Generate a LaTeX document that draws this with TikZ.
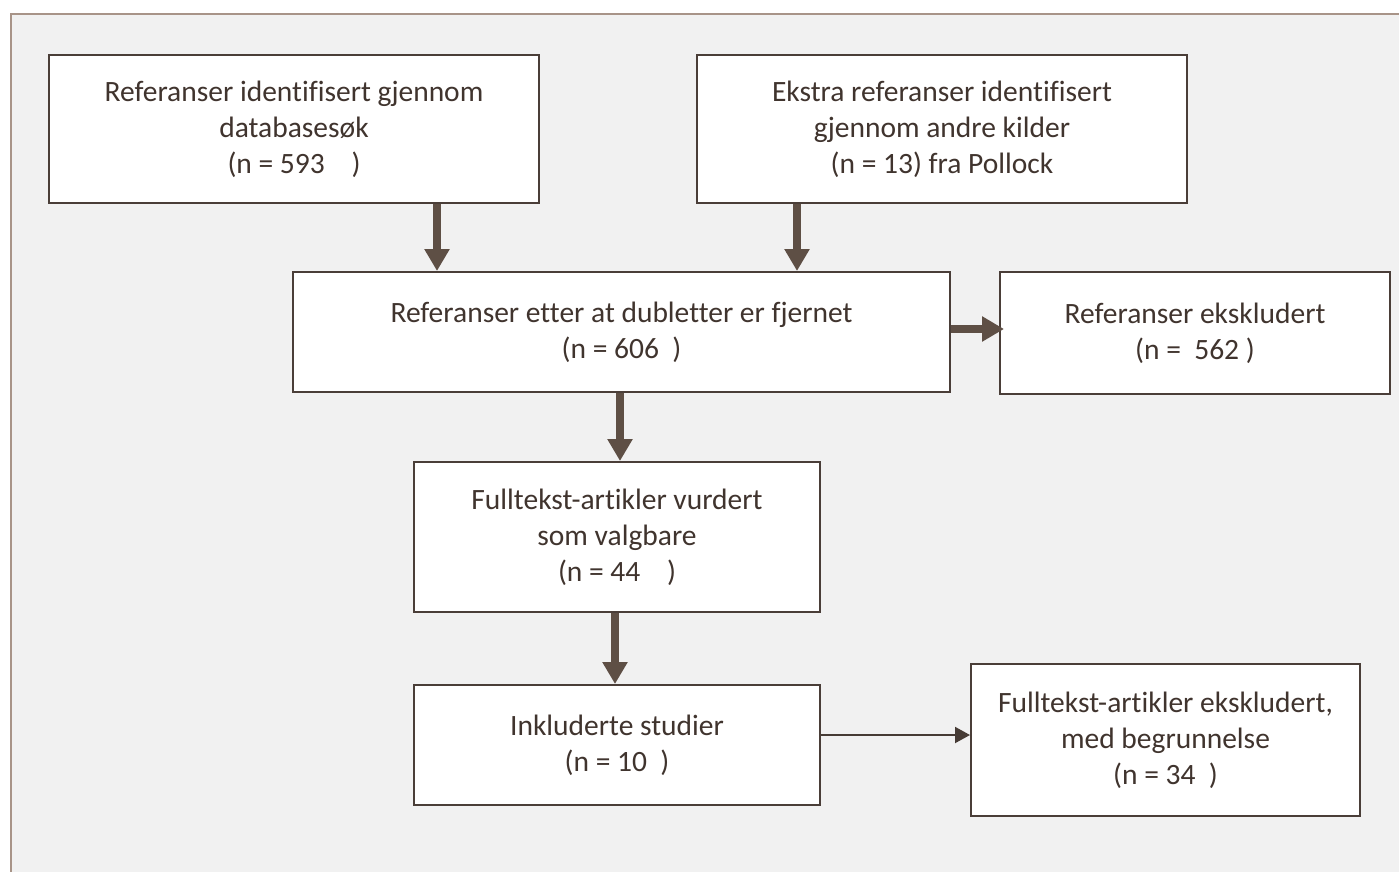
\documentclass[tikz,border=0pt]{standalone}
\usepackage{fontspec}
\setmainfont{Carlito}[Ligatures=NoCommon]
\usetikzlibrary{arrows.meta}
\definecolor{bgc}{HTML}{F1F1F1}
\definecolor{framec}{HTML}{A89488}
\definecolor{boxline}{HTML}{4A3E38}
\definecolor{txt}{HTML}{40342E}
\definecolor{arrc}{HTML}{5E4F45}
\definecolor{thinc}{HTML}{463B35}
\tikzset{
  box/.style={draw=boxline, line width=2pt, fill=white, text=txt, align=center,
    font=\fontsize{29.5pt}{36pt}\selectfont, inner sep=0pt},
  bigarrow/.style={draw=arrc, line width=8pt, -{Triangle[width=24pt,length=22pt]}},
  thinarrow/.style={draw=thinc, line width=2pt, -{Triangle[width=16pt,length=15pt]}}
}
\begin{document}
\begin{tikzpicture}[x=1pt,y=-1pt]
\useasboundingbox (0,0) rectangle (1399,872);
\fill[white] (0,0) rectangle (1399,872);
\fill[bgc] (11,14) rectangle (1405,880);
\draw[framec, line width=2.5pt] (1405,14) -- (11,14) -- (11,880);

\node[box, minimum width=490pt, minimum height=148pt] (a) at (294,129)
  {Referanser identifisert gjennom\\databasesøk\\(n = 593\ \ \ \ )};
\node[box, minimum width=490pt, minimum height=148pt] (b) at (942,129)
  {Ekstra referanser identifisert\\gjennom andre kilder\\(n = 13) fra Pollock};
\node[box, minimum width=657pt, minimum height=120pt] (c) at (621.5,332)
  {Referanser etter at dubletter er fjernet\\(n = 606\ \ )};
\node[box, minimum width=390pt, minimum height=122pt] (d) at (1195,333)
  {Referanser ekskludert\\(n = \ 562 )};
\node[box, minimum width=406pt, minimum height=150pt] (e) at (617,537)
  {Fulltekst-artikler vurdert\\som valgbare\\(n = 44\ \ \ \ )};
\node[box, minimum width=406pt, minimum height=120pt] (f) at (617,745)
  {Inkluderte studier\\(n = 10\ \ )};
\node[box, minimum width=389pt, minimum height=152pt] (g) at (1165.5,740)
  {Fulltekst-artikler ekskludert,\\med begrunnelse\\(n = 34\ \ )};

\coordinate (xa) at (437,0);
\coordinate (xb) at (797,0);
\coordinate (xc) at (620,0);
\coordinate (xe) at (615,0);
\coordinate (yc) at (0,329);
\coordinate (yf) at (0,735);

\draw[bigarrow] (a.south -| xa) -- (c.north -| xa);
\draw[bigarrow] (b.south -| xb) -- (c.north -| xb);
\draw[bigarrow] (c.east |- yc) -- ([xshift=5pt]d.west |- yc);
\draw[bigarrow] (c.south -| xc) -- (e.north -| xc);
\draw[bigarrow] (e.south -| xe) -- (f.north -| xe);
\draw[thinarrow] (f.east |- yf) -- (g.west |- yf);
\end{tikzpicture}
\end{document}
